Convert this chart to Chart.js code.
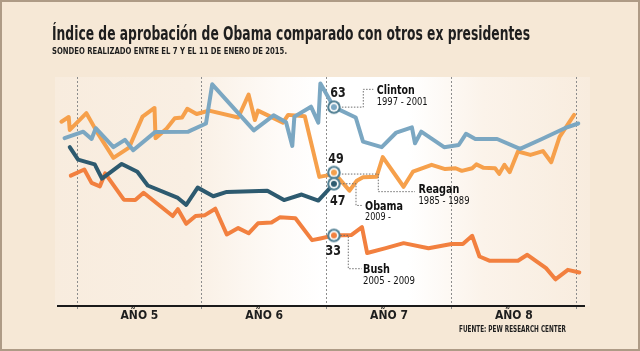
<!DOCTYPE html>
<html lang="es">
<head>
<meta charset="utf-8">
<title>Índice de aprobación de Obama</title>
<script src="https://cdn.jsdelivr.net/npm/chart.js@4.4.1/dist/chart.umd.min.js"></script>
<style>
  html, body { margin: 0; padding: 0; background: #f6e8d6; }
  #wrap { width: 640px; height: 351px; }
</style>
</head>
<body>
<div id="wrap"><canvas id="chart" width="640" height="351"></canvas></div>
<script>
// meses contados desde el inicio del año 5 de cada mandato
const obamaMonths = [-0.7, 0.1, 1.7, 2.4, 4.3, 5.8, 6.8, 9.7, 10.5, 11.6, 13.1, 14.4, 18.3, 19.9, 21.6, 23.2, 24.7];
const obamaApproval = [54.4, 51.5, 50.4, 47.1, 50.5, 48.7, 45.5, 42.6, 41.0, 45.0, 43.0, 44.0, 44.3, 42.1, 43.4, 42.0, 45.9];

const clintonMonths = [-1.2, 0.6, 1.4, 1.8, 3.5, 4.6, 5.4, 7.5, 10.7, 12.4, 13.0, 17.0, 18.9, 20.1, 20.7, 20.9, 22.5, 23.2, 23.4, 24.7, 26.8, 27.5, 29.3, 30.7, 32.2, 32.5, 33.1, 35.3, 36.7, 37.4, 38.3, 40.4, 42.6, 44.7, 46.9, 48.2];
const clintonApproval = [56.5, 58.0, 56.3, 58.8, 54.4, 56.1, 53.7, 57.9, 58.0, 59.9, 69.0, 58.3, 61.8, 60.2, 54.7, 61.5, 63.8, 60.1, 69.2, 63.7, 61.3, 55.7, 54.4, 57.8, 59.0, 55.3, 58.0, 54.4, 54.9, 57.5, 56.3, 56.3, 54.0, 56.3, 58.8, 59.9];

const reaganMonths = [-1.5, -0.8, -0.7, 0.9, 2.0, 3.5, 5.0, 6.3, 7.45, 7.55, 8.6, 9.4, 10.1, 10.6, 11.5, 12.7, 15.5, 16.5, 17.1, 17.4, 19.8, 20.3, 21.9, 23.3, 24.2, 24.7, 26.2, 26.9, 27.5, 28.8, 29.4, 31.4, 32.3, 34.1, 35.4, 36.4, 37.0, 38.0, 38.4, 39.1, 40.2, 40.6, 41.1, 41.6, 42.4, 43.6, 44.8, 45.6, 46.4, 47.8];
const reaganApproval = [60.3, 61.4, 58.4, 62.3, 57.6, 51.9, 54.3, 61.5, 63.5, 56.5, 58.7, 61.1, 61.3, 63.3, 62.1, 62.9, 61.3, 66.6, 60.7, 62.9, 60.1, 61.9, 61.6, 47.5, 47.9, 48.5, 44.3, 46.6, 47.4, 47.5, 52.1, 45.2, 48.7, 50.3, 49.3, 49.5, 48.9, 49.5, 50.4, 49.6, 49.5, 48.2, 50.3, 48.6, 53.4, 52.6, 53.5, 50.9, 56.8, 61.9];

const bushMonths = [-0.6, 0.7, 1.4, 2.2, 2.7, 4.5, 5.6, 6.4, 9.2, 9.7, 10.5, 11.4, 12.3, 13.3, 14.4, 15.5, 16.5, 17.4, 18.7, 19.5, 21.0, 22.6, 23.4, 24.7, 26.4, 27.4, 27.9, 29.6, 31.4, 33.8, 36.0, 37.1, 38.0, 38.7, 39.7, 42.4, 43.3, 45.1, 46.0, 47.2, 48.3];
const bushApproval = [47.8, 49.2, 46.1, 45.3, 48.3, 42.2, 42.1, 43.8, 38.4, 40.0, 36.6, 38.4, 38.6, 40.1, 34.1, 35.6, 34.4, 36.7, 36.9, 38.1, 37.9, 32.8, 33.2, 33.9, 34.0, 35.8, 29.8, 30.9, 32.1, 30.9, 31.9, 31.9, 33.8, 29.0, 28.0, 28.0, 29.4, 26.3, 23.7, 25.9, 25.3];

const yearStarts = [0, 12, 24, 36, 48];
const yearLabels = ['AÑO 5', 'AÑO 6', 'AÑO 7', 'AÑO 8'];
const markerMonth = 24.7;

const presidents = ['Obama', 'Clinton', 'Reagan', 'Bush'];
const terms = ['2009 -', '1997 - 2001', '1985 - 1989', '2005 - 2009'];
const markerValues = ['47', '63', '49', '33'];

const condensed = '"Liberation Sans Narrow", "DejaVu Sans Condensed", "Arial Narrow", sans-serif';
const colors = ['#2d5a6f', '#7ba7c2', '#f6a04b', '#f2803f'];

function markerImage(fill) {
    const c = document.createElement('canvas');
    c.width = 16; c.height = 16;
    const g = c.getContext('2d');
    g.beginPath(); g.arc(8, 8, 6.8, 0, Math.PI * 2); g.fillStyle = '#4f7e92'; g.fill();
    g.beginPath(); g.arc(8, 8, 4.7, 0, Math.PI * 2); g.fillStyle = '#ffffff'; g.fill();
    g.beginPath(); g.arc(8, 8, 3.0, 0, Math.PI * 2); g.fillStyle = fill; g.fill();
    return c;
}

function makeSeries(months, values, color) {
    const idx = months.indexOf(markerMonth);
    const img = markerImage(color);
    return {
        data: months.map((m, i) => ({ x: m, y: values[i] })),
        borderColor: color,
        borderWidth: 4,
        borderJoinStyle: 'round',
        borderCapStyle: 'round',
        tension: 0,
        pointRadius: ctx => ctx.dataIndex === idx ? 7 : 0,
        pointHoverRadius: ctx => ctx.dataIndex === idx ? 7 : 0,
        pointStyle: ctx => ctx.dataIndex === idx ? img : 'circle'
    };
}

function drawFitted(ctx, text, x, y, size, weight, width, align, color) {
    ctx.save();
    ctx.font = weight + ' ' + size + 'px ' + condensed;
    const w = ctx.measureText(text).width;
    const x0 = align === 'right' ? x - width : (align === 'center' ? x - width / 2 : x);
    ctx.fillStyle = color;
    ctx.textBaseline = 'middle';
    ctx.textAlign = 'left';
    ctx.translate(x0, y);
    ctx.scale(width / w, 1);
    ctx.fillText(text, 0, 0);
    ctx.restore();
}

function dotted(ctx, pts) {
    ctx.save();
    ctx.strokeStyle = '#6f6f6f';
    ctx.lineWidth = 1;
    ctx.setLineDash([1.5, 1.5]);
    ctx.beginPath();
    pts.forEach((p, i) => i ? ctx.lineTo(p[0], p[1]) : ctx.moveTo(p[0], p[1]));
    ctx.stroke();
    ctx.restore();
}

// desplazamientos de las etiquetas respecto al punto marcado
const labelLayout = [
    { num: [3.8, 17.9], line: [[6.1, 0], [22.1, 0], [22.1, 21.7], [27.8, 21.7]], name: [31.1, 22.9, 38], term: [31.1, 33.7, 26] },
    { num: [4, -14], line: [[8, 0], [29.4, 0], [29.4, -17.8], [39.4, -17.8]], name: [42.8, -16.4, 38], term: [42.8, -4.8, 51] },
    { num: [2, -12.6], line: [[8, 1.5], [44.4, 1.5], [44.4, 19.1], [81.1, 19.1]], name: [84.6, 16.9, 41], term: [84.6, 28.4, 51] },
    { num: [-0.6, 16.2], line: [[6.6, 0], [14.4, 0], [14.4, 33.3], [27.8, 33.3]], name: [29.1, 34.5, 27], term: [29.1, 45.5, 52] }
];

const fondo = {
    id: 'fondo',
    beforeDraw(chart) {
        const { ctx, width, height, chartArea } = chart;
        ctx.save();
        ctx.fillStyle = '#f6e8d6';
        ctx.fillRect(0, 0, width, height);
        const l = chartArea.left - 3, r = chartArea.right + 6;
        const g = ctx.createLinearGradient(l, 0, r, 0);
        g.addColorStop(0, '#f8ecde');
        g.addColorStop(0.25, '#f9efe3');
        g.addColorStop(0.42, '#fefbf8');
        g.addColorStop(0.5, '#ffffff');
        g.addColorStop(0.66, '#ffffff');
        g.addColorStop(0.8, '#fbf3ea');
        g.addColorStop(1, '#f8ecde');
        ctx.fillStyle = g;
        ctx.fillRect(l, chartArea.top, r - l, chartArea.height);
        ctx.strokeStyle = '#ae9b86';
        ctx.lineWidth = 2;
        ctx.strokeRect(1, 1, width - 2, height - 2);
        ctx.restore();
    },
    afterDatasetsDraw(chart) {
        const ctx = chart.ctx;
        presidents.forEach((name, i) => {
            const meta = chart.getDatasetMeta(i);
            const idx = chart.data.datasets[i].data.findIndex(p => p.x === markerMonth);
            const pt = meta.data[idx];
            const lay = labelLayout[i];
            dotted(ctx, lay.line.map(p => [pt.x + p[0], pt.y + p[1]]));
            drawFitted(ctx, markerValues[i], pt.x + lay.num[0], pt.y + lay.num[1], 13.5, 'bold', 15.5, 'center', '#1c1c1c');
            drawFitted(ctx, name, pt.x + lay.name[0], pt.y + lay.name[1], 12.5, 'bold', lay.name[2], 'left', '#111');
            drawFitted(ctx, terms[i], pt.x + lay.term[0], pt.y + lay.term[1], 11, 'normal', lay.term[2], 'left', '#111');
        });
    },
    afterDraw(chart) {
        const ctx = chart.ctx;
        drawFitted(ctx, 'Índice de aprobación de Obama comparado con otros ex presidentes', 52, 35, 19, 'bold', 478, 'left', '#1e1e1e');
        drawFitted(ctx, 'SONDEO REALIZADO ENTRE EL 7 Y EL 11 DE ENERO DE 2015.', 52, 52, 9, 'bold', 235, 'left', '#1e1e1e');
        drawFitted(ctx, 'FUENTE: PEW RESEARCH CENTER', 566, 330, 8.5, 'bold', 107, 'right', '#1e1e1e');
    }
};

const gridColor = ctx => (ctx.tick && yearStarts.includes(ctx.tick.value)) ? '#8d8d8d' : 'rgba(0,0,0,0)';

new Chart(document.getElementById('chart'), {
    type: 'line',
    data: {
        datasets: [
            makeSeries(obamaMonths, obamaApproval, colors[0]),
            makeSeries(clintonMonths, clintonApproval, colors[1]),
            makeSeries(reaganMonths, reaganApproval, colors[2]),
            makeSeries(bushMonths, bushApproval, colors[3])
        ]
    },
    options: {
        responsive: false,
        animation: false,
        events: [],
        layout: { padding: { left: 58, right: 56, top: 77, bottom: 0 } },
        plugins: { legend: { display: false }, tooltip: { enabled: false } },
        scales: {
            x: {
                type: 'linear',
                min: -1.83,
                max: 48.75,
                afterBuildTicks: axis => {
                    axis.ticks = [0, 6, 12, 18, 24, 30, 36, 42, 48].map(v => ({ value: v }));
                },
                afterFit: axis => { axis.height = 45; },
                ticks: {
                    autoSkip: false,
                    maxRotation: 0,
                    padding: -2,
                    color: '#1e1e1e',
                    font: { family: condensed, size: 12, weight: 'bold' },
                    callback: v => (v % 12 === 6) ? yearLabels[(v - 6) / 12] : ''
                },
                grid: {
                    color: gridColor,
                    tickColor: gridColor,
                    lineWidth: 1,
                    tickLength: 5,
                    tickBorderDash: [2, 2]
                },
                border: { display: true, color: '#1a1a1a', width: 2, dash: [2, 2] }
            },
            y: {
                display: false,
                min: 17.5,
                max: 70.7
            }
        }
    },
    plugins: [fondo]
});
</script>
</body>
</html>
